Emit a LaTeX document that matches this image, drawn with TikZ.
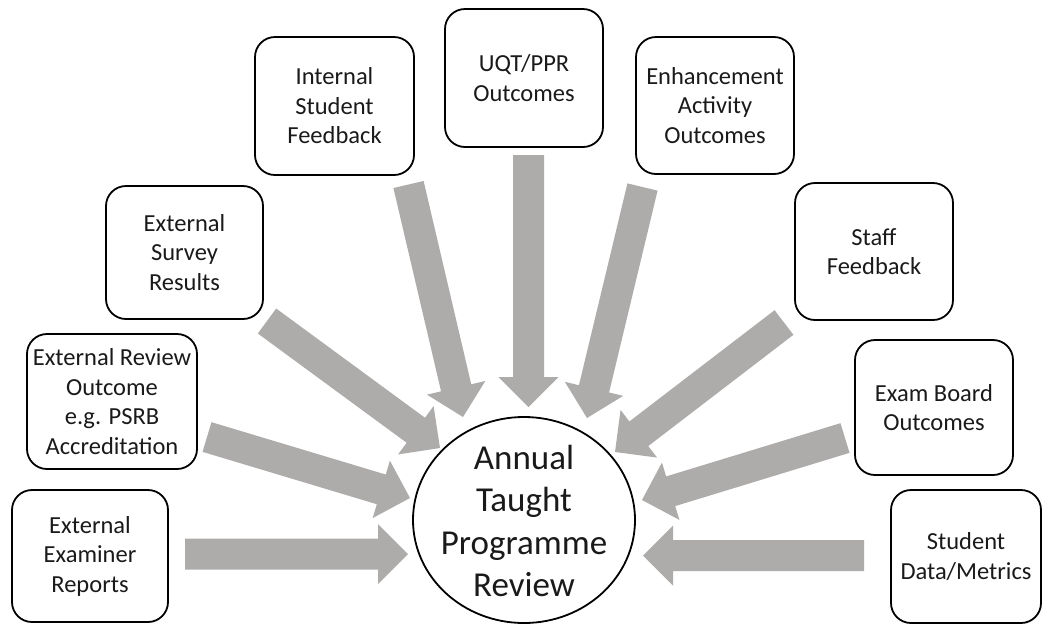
\documentclass[tikz,border=0pt]{standalone}
\usepackage{fontspec}
\setmainfont{Carlito}
\usetikzlibrary{calc}
\definecolor{flowgray}{HTML}{AEABAB}
\definecolor{inktext}{HTML}{1A1A1A}

% Block arrow from tail coordinate #1 to tip coordinate #2
\newcommand\inflow[2]{%
  \path ($(#2)!30pt!(#1)$) coordinate (ab);
  \fill[flowgray]
    ($(#1)!15.5pt!90:(#2)$) -- ($(ab)!15.5pt!-90:(#1)$) --
    ($(ab)!30pt!-90:(#1)$) -- (#2) -- ($(ab)!30pt!90:(#1)$) --
    ($(ab)!15.5pt!90:(#1)$) -- ($(#1)!15.5pt!-90:(#2)$) -- cycle;
}

\tikzset{
  srcbox/.style={draw=black, line width=1.8pt, rounded corners=20pt, fill=white,
    align=center, text=inktext, inner sep=0pt,
    font=\fontsize{24.5}{29.5}\selectfont},
  hubtext/.style={align=center, text=inktext, inner sep=0pt,
    font=\fontsize{35}{42.5}\selectfont},
  hubring/.style={draw=black, line width=1.8pt}
}

\begin{document}
\begin{tikzpicture}[x=1pt, y=-1pt]
\useasboundingbox (0,0) rectangle (1043,625);

% source boxes
\node[srcbox, minimum width=156pt, minimum height=132pt] (exam) at (90,556) {External\\Examiner\\Reports};
\node[srcbox, minimum width=170pt, minimum height=135pt] (review) at (112,401.5) {External Review\\Outcome\\e.g. PSRB\\Accreditation};
\node[srcbox, minimum width=157pt, minimum height=133pt] (survey) at (184.5,252.5) {External\\Survey\\Results};
\node[srcbox, minimum width=159pt, minimum height=138pt] (internal) at (334.5,106) {Internal\\Student\\Feedback};
\node[srcbox, minimum width=158pt, minimum height=138pt] (uqt) at (524,78) {UQT/PPR\\Outcomes};
\node[srcbox, minimum width=158pt, minimum height=137pt] (enh) at (715,105.5) {Enhancement\\Activity\\Outcomes};
\node[srcbox, minimum width=158pt, minimum height=137pt] (staff) at (874,251.5) {Staff\\Feedback};
\node[srcbox, minimum width=158pt, minimum height=135pt] (board) at (934,407.5) {Exam Board\\Outcomes};
\node[srcbox, minimum width=150pt, minimum height=133pt] (data) at (966,556.5) {Student\\Data/Metrics};

% central review
\node[hubtext] (hub) at (524,521) {Annual\\Taught\\Programme\\Review};
\draw[hubring] (524,520) ellipse [x radius=111pt, y radius=103pt];

% arrow tails and tips
\coordinate (examT) at (185,554);     \coordinate (examP) at (408,554);
\coordinate (reviewT) at (207,437);   \coordinate (reviewP) at (410,498);
\coordinate (surveyT) at (267,321);   \coordinate (surveyP) at (440,448);
\coordinate (internalT) at (408.5,184.5); \coordinate (internalP) at (463,417);
\coordinate (uqtT) at (528.5,155);    \coordinate (uqtP) at (528.5,407);
\coordinate (enhT) at (642.5,187);    \coordinate (enhP) at (587,418);
\coordinate (staffT) at (784,322.5);  \coordinate (staffP) at (615,452);
\coordinate (boardT) at (845,438);    \coordinate (boardP) at (642,500);
\coordinate (dataT) at (864,555.5);   \coordinate (dataP) at (643,555.5);

\inflow{examT}{examP}
\inflow{reviewT}{reviewP}
\inflow{surveyT}{surveyP}
\inflow{internalT}{internalP}
\inflow{uqtT}{uqtP}
\inflow{enhT}{enhP}
\inflow{staffT}{staffP}
\inflow{boardT}{boardP}
\inflow{dataT}{dataP}
\end{tikzpicture}
\end{document}
